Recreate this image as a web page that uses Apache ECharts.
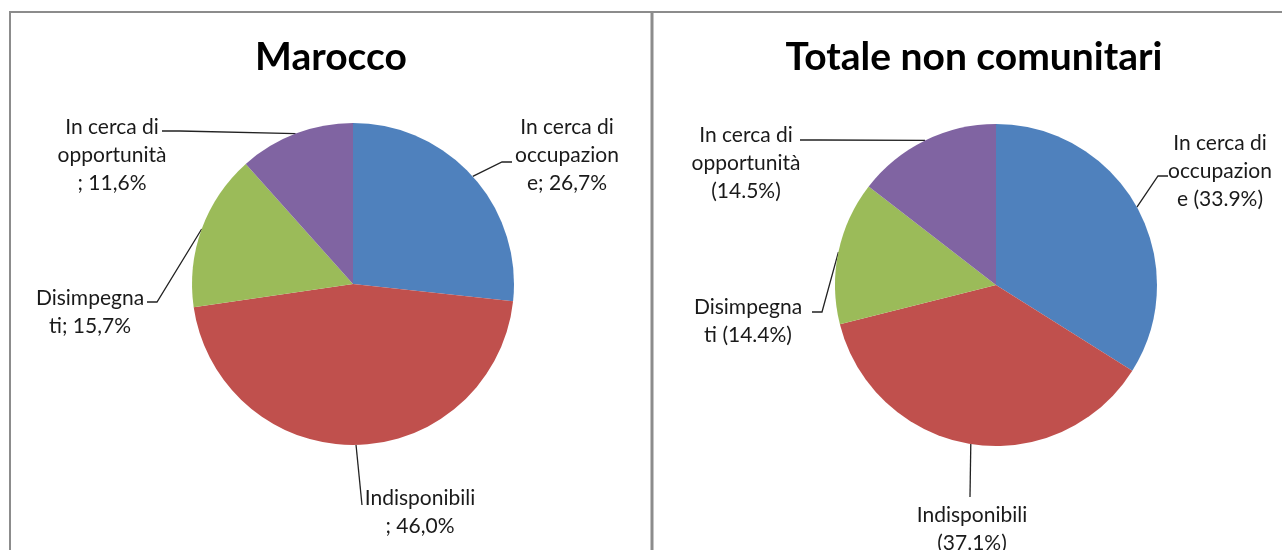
<!DOCTYPE html>
<html>
<head>
<meta charset="utf-8">
<style>
  html, body { margin: 0; padding: 0; background: #fff; }
  #chart { width: 1282px; height: 550px; }
</style>
<script src="https://cdn.jsdelivr.net/npm/echarts@6/dist/echarts.min.js"></script>
</head>
<body>
<div id="chart"></div>
<script>
const titles = ["Marocco", "Totale non comunitari"];
const categories = ["In cerca di occupazione", "Indisponibili", "Disimpegnati", "In cerca di opportunità"];
// testo delle etichette come spezzato nell'originale
const labelBreaks = ["In cerca di\noccupazion\ne", "Indisponibili\n", "Disimpegna\nti", "In cerca di\nopportunità\n"];
const marocco = [26.7, 46.0, 15.7, 11.6];
const totale = [33.9, 37.1, 14.4, 14.5];
const colors = ["#4F81BD", "#C0504D", "#9BBB59", "#8064A2"];

// posizione etichette: [centro x, top y, piega x, piega y, fine x, fine y]
const labelPos = [
  [
    [567, 113, 502, 162, 512, 162],
    [420, 484, 362, 505, 362, 505],
    [90, 284, 157, 302, 147, 302],
    [112, 113, 180, 131, 162, 131]
  ],
  [
    [1220, 129, 1158, 176, 1168, 176],
    [972, 501, 970, 497, 970, 497],
    [748, 293, 822, 312, 812, 312],
    [746, 121, 820, 140, 800, 140]
  ]
];

function labelText(i, v, comma) {
  const b = labelBreaks[i];
  if (comma) {
    return b + "; " + v.toFixed(1).replace(".", ",") + "%";
  }
  return b + (b.endsWith("\n") ? "" : " ") + "(" + v.toFixed(1) + "%)";
}

function makeSeries(values, idx, center, comma) {
  return {
    type: "pie",
    center: center,
    radius: 161,
    startAngle: 90,
    clockwise: true,
    animation: false,
    silent: true,
    color: colors,
    itemStyle: { borderWidth: 0 },
    label: {
      show: true,
      formatter: p => labelText(p.dataIndex, p.value, comma),
      fontFamily: "Lato",
      fontSize: 21,
      lineHeight: 28,
      color: "#1a1a1a",
      align: "center",
      overflow: "none"
    },
    labelLine: {
      show: true,
      lineStyle: { color: "#222", width: 1.3 }
    },
    labelLayout: params => {
      const p = labelPos[idx][params.dataIndex];
      const edge = params.labelLinePoints ? params.labelLinePoints[0] : [p[2], p[3]];
      return {
        x: p[0],
        y: p[1],
        align: "center",
        verticalAlign: "top",
        labelLinePoints: [edge, [p[2], p[3]], [p[4], p[5]]]
      };
    },
    data: values.map((v, i) => ({ name: categories[i], value: v }))
  };
}

const chart = echarts.init(document.getElementById("chart"));
chart.setOption({
  backgroundColor: "#fff",
  title: [
    {
      text: titles[0], left: 331, top: 38, textAlign: "center", padding: 0,
      textStyle: { fontFamily: "Lato", fontWeight: "bold", fontSize: 39, color: "#000" }
    },
    {
      text: titles[1], left: 974, top: 38, textAlign: "center", padding: 0,
      textStyle: { fontFamily: "Lato", fontWeight: "bold", fontSize: 39, color: "#000" }
    }
  ],
  graphic: [
    { type: "line", shape: { x1: 9, y1: 12, x2: 1282, y2: 12 }, style: { stroke: "#8c8c8c", lineWidth: 2 } },
    { type: "line", shape: { x1: 10, y1: 12, x2: 10, y2: 550 }, style: { stroke: "#8c8c8c", lineWidth: 2 } },
    { type: "line", shape: { x1: 652, y1: 12, x2: 652, y2: 550 }, style: { stroke: "#8c8c8c", lineWidth: 3 } }
  ],
  series: [
    makeSeries(marocco, 0, [353, 284], true),
    makeSeries(totale, 1, [996, 285], false)
  ]
});
</script>
</body>
</html>
